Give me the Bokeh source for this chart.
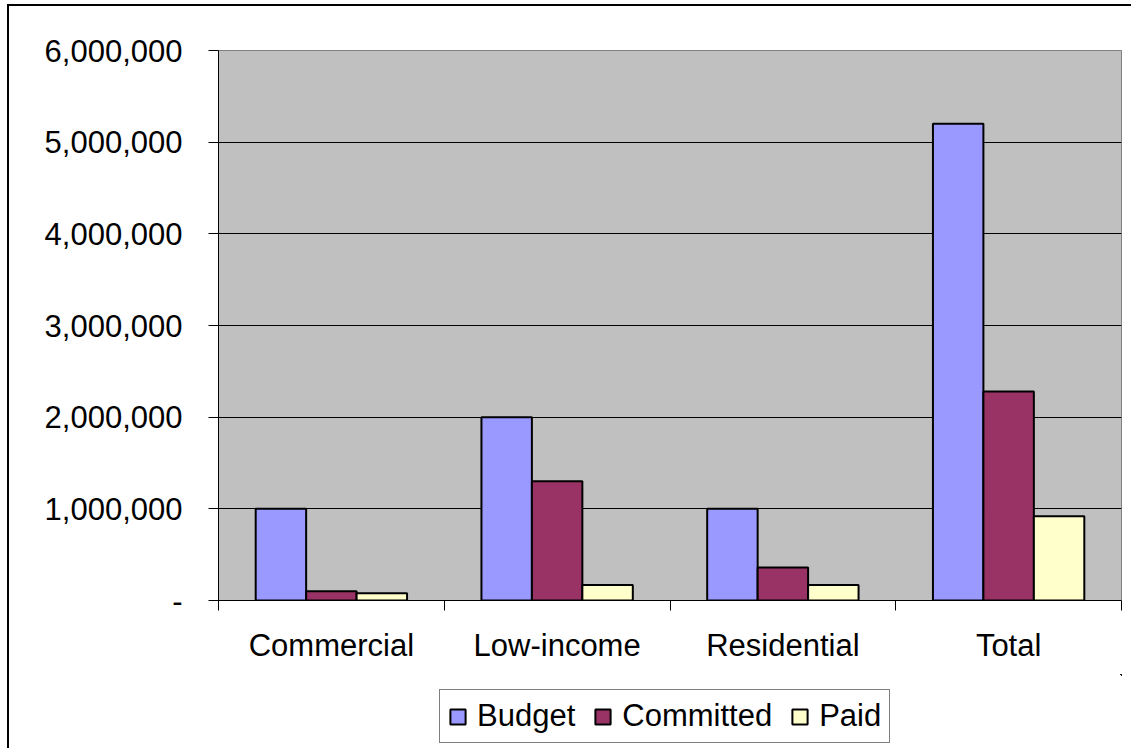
from bokeh.plotting import figure
from bokeh.layouts import column
from bokeh.models import ColumnDataSource, Range1d, FixedTicker, Legend, LegendItem
from bokeh.transform import dodge
from bokeh.embed import file_html
from bokeh.resources import INLINE

categories = ["Commercial", "Low-income", "Residential", "Total"]
budget = [1000000, 2000000, 1000000, 5200000]
committed = [100000, 1300000, 360000, 2280000]
paid = [80000, 170000, 170000, 920000]
series_names = ["Budget", "Committed", "Paid"]
series_colors = ["#9999FF", "#993366", "#FFFFCC"]
y_ticks = [0, 1000000, 2000000, 3000000, 4000000, 5000000, 6000000]
y_tick_labels = ["-", "1,000,000", "2,000,000", "3,000,000", "4,000,000", "5,000,000", "6,000,000"]

FONT = "Liberation Sans"
FS = "31px"

pos = [i + 0.5 for i in range(len(categories))]
source = ColumnDataSource(dict(pos=pos, cat=categories, Budget=budget, Committed=committed, Paid=paid))

W = 1122
p = figure(width=W, height=668, output_backend="svg", toolbar_location=None,
           x_range=Range1d(0, len(categories)), y_range=Range1d(0, 6000000),
           min_border_left=209, min_border_right=10, min_border_top=44, min_border_bottom=74)
p.title = None
p.background_fill_color = "#C0C0C0"
p.border_fill_color = "white"
p.outline_line_color = "#808080"
p.outline_line_width = 1

bw = 0.2235
offsets = [-bw, 0.0, bw]
for name, color, off in zip(series_names, series_colors, offsets):
    p.vbar(x=dodge("pos", off, range=p.x_range), top=name, width=bw, bottom=0,
           source=source, fill_color=color, line_color="black", line_width=2)

# y axis
p.yaxis.ticker = FixedTicker(ticks=y_ticks, minor_ticks=[])
p.yaxis.major_label_overrides = {t: l for t, l in zip(y_ticks, y_tick_labels)}
p.yaxis.major_label_text_font = FONT
p.yaxis.major_label_text_font_size = FS
p.yaxis.major_label_text_color = "black"
p.yaxis.major_tick_out = 10
p.yaxis.major_tick_in = 0
p.yaxis.minor_tick_line_color = None
p.yaxis.major_label_standoff = 26
p.yaxis.axis_line_color = "black"
p.yaxis.major_tick_line_color = "black"

# x axis: labels at category centers, ticks at category boundaries
p.xaxis.ticker = FixedTicker(ticks=pos, minor_ticks=list(range(len(categories) + 1)))
p.xaxis.major_label_overrides = {x: c for x, c in zip(pos, categories)}
p.xaxis.major_label_text_font = FONT
p.xaxis.major_label_text_font_size = FS
p.xaxis.major_label_text_color = "black"
p.xaxis.major_tick_line_color = None
p.xaxis.major_tick_out = 0
p.xaxis.major_tick_in = 0
p.xaxis.minor_tick_line_color = "black"
p.xaxis.minor_tick_out = 10
p.xaxis.minor_tick_in = 0
p.xaxis.major_label_standoff = 17
p.xaxis.axis_line_color = "black"

p.xgrid.grid_line_color = None
p.ygrid.ticker = FixedTicker(ticks=y_ticks)
p.ygrid.grid_line_color = "black"
p.ygrid.grid_line_width = 1

# legend strip below the chart (its own bars lie far outside its visible ranges)
lg = figure(width=W, height=74, output_backend="svg", toolbar_location=None,
            x_axis_location=None, y_axis_location=None,
            x_range=Range1d(-100, -96), y_range=Range1d(-2e7, -1e7),
            min_border_left=0, min_border_right=0, min_border_top=0, min_border_bottom=0)
lg.title = None
lg.grid.visible = False
lg.outline_line_color = None
lg.background_fill_color = "white"
lg.border_fill_color = "white"
items = []
for name, color, off in zip(series_names, series_colors, offsets):
    r = lg.vbar(x=dodge("pos", off, range=lg.x_range), top=name, width=bw, bottom=0,
                source=source, fill_color=color, line_color="black", line_width=2)
    items.append(LegendItem(label=name, renderers=[r]))

legend = Legend(items=items, orientation="horizontal", location=(221, 5),
                label_text_font=FONT, label_text_font_size=FS, label_text_color="black",
                glyph_width=19, glyph_height=19, label_standoff=10, spacing=18,
                padding=8, margin=0, border_line_color="black", border_line_width=1,
                background_fill_color="white", background_fill_alpha=1.0)
lg.add_layout(legend)

layout = column(p, lg, spacing=0)
layout.styles = {"border-left": "2px solid black", "border-top": "2px solid black",
                 "margin-left": "7px", "margin-top": "4px"}

open("out.html", "w").write(file_html(layout, INLINE))
